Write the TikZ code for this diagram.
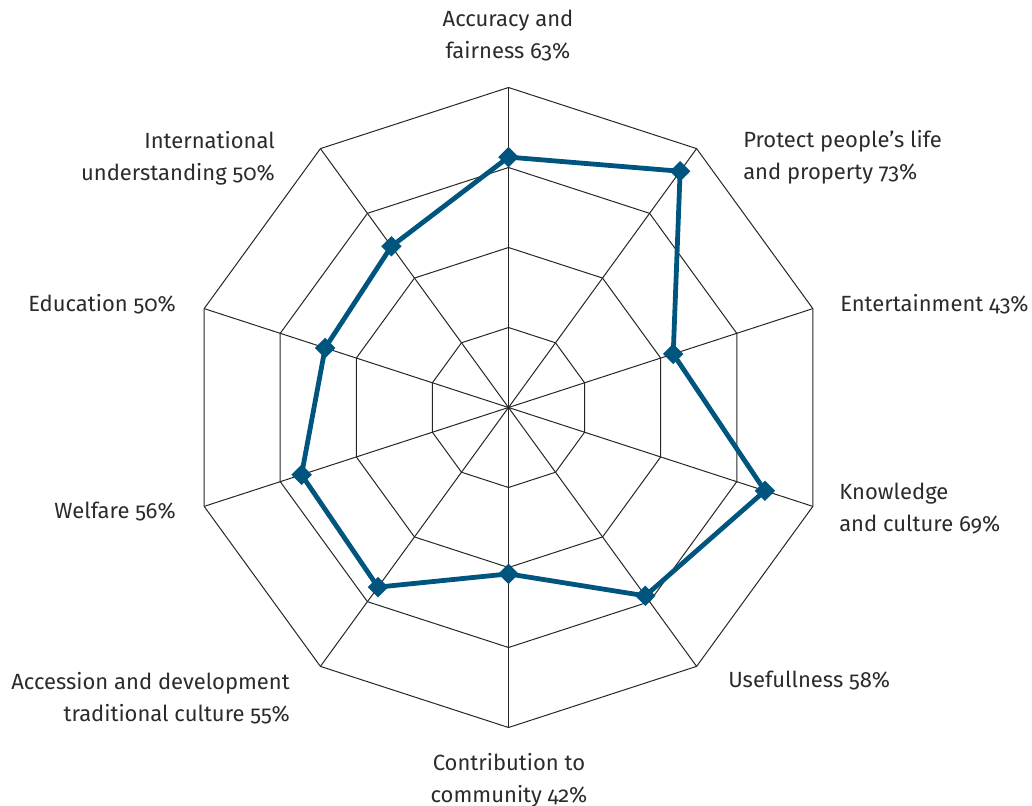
\documentclass[tikz,border=0pt]{standalone}
\usepackage{fontspec}
\setmainfont[Numbers=OldStyle]{Fira Sans}
\usetikzlibrary{shapes.geometric,calc}
\definecolor{chartblue}{HTML}{00557F}
\definecolor{labelgray}{HTML}{2B2B2B}

\begin{document}
\begin{tikzpicture}[%
	x=0.75pt, y=-0.75pt,
	grid/.style = {draw=black!85, line width=0.75pt},
	series/.style = {draw=chartblue, line width=3.6pt, line join=miter},
	marker/.style = {diamond, fill=chartblue, inner sep=0pt, minimum size=15.5pt},
	axislabel/.style = {text=labelgray, inner sep=0pt, font=\fontsize{16.5}{24}\selectfont}
	]
  \useasboundingbox (0,0) rectangle (1032,806);
  \coordinate (o) at (508.5,407.5);
  % rings and spokes
  \foreach \r in {80,160,240,320}
    \draw [grid] ($(o)+(-90:\r)$) \foreach \a in {1,...,9} { -- ($(o)+(36*\a-90:\r)$) } -- cycle;
  \foreach \a in {0,...,9}
    \draw [grid] (o) -- ($(o)+(36*\a-90:320)$);
  % data points
  \foreach \v [count=\i from 0] in {62.6,73,43.3,67.4,58.2,41.6,55.5,54.4,48.2,49.8}
    \coordinate (p\i) at ($(o)+(36*\i-90:4*\v)$);
  \draw [series] (p0) -- (p1) -- (p2) -- (p3) -- (p4) -- (p5) -- (p6) -- (p7) -- (p8) -- (p9) -- cycle;
  \foreach \i in {0,...,9}
    \node [marker] (m\i) at (p\i) {};
  % labels
  \node [axislabel, align=center, anchor=north] (accuracy) at (508,10) {Accuracy and\\fairness 63\%};
  \node [axislabel, align=left, anchor=north west] (protect) at (743,130) {Protect people’s life\\and property 73\%};
  \node [axislabel, anchor=north west] (entertainment) at (840,294) {Entertainment 43\%};
  \node [axislabel, align=left, anchor=north west] (knowledge) at (839,483) {Knowledge\\and culture 69\%};
  \node [axislabel, anchor=north west] (usefullness) at (728,671) {Usefullness 58\%};
  \node [axislabel, align=center, anchor=north] (contribution) at (509,753) {Contribution to\\community 42\%};
  \node [axislabel, align=right, anchor=north east] (accession) at (290,672) {Accession and development\\traditional culture 55\%};
  \node [axislabel, anchor=north east] (welfare) at (176,502) {Welfare 56\%};
  \node [axislabel, anchor=north east] (education) at (176,294) {Education 50\%};
  \node [axislabel, align=right, anchor=north east] (international) at (275,131) {International\\understanding 50\%};
\end{tikzpicture}
\end{document}
